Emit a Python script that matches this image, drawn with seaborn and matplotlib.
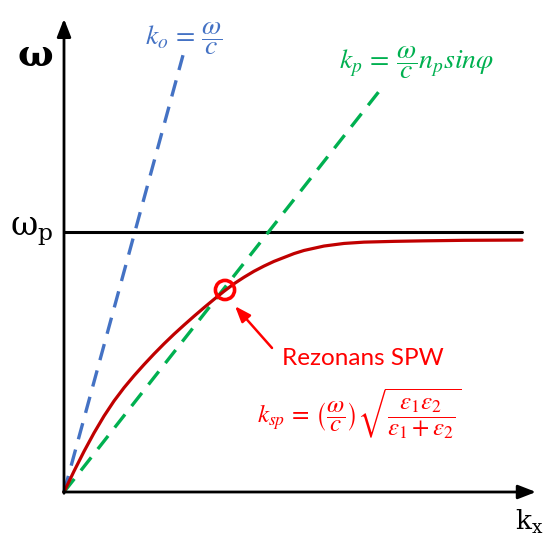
import matplotlib
matplotlib.use("Agg")
import matplotlib.pyplot as plt
import seaborn as sns
import numpy as np
import pandas as pd

sns.set_theme(style="white")
plt.rcParams['mathtext.fontset'] = 'stix'

# Data (x: wavevector k_x, y: frequency omega, omega_p = 1)
light_k = [0.0, 1.19]
light_w = [0.0, 1.68]
prism_k = [0.0, 3.21]
prism_w = [0.0, 1.57]
spw_k = [0.0, 0.1, 0.2, 0.3, 0.4, 0.5, 0.6, 0.7, 0.8, 0.9, 1.0, 1.1, 1.2, 1.3, 1.4, 1.5,
         1.6, 1.7, 1.8, 1.9, 2.0, 2.1, 2.2, 2.3, 2.4, 2.6, 2.8, 3.0, 3.3, 3.6, 4.0, 4.58]
spw_w = [0.0, 0.080, 0.156, 0.227, 0.292, 0.350, 0.401, 0.447, 0.490, 0.531, 0.570, 0.607,
         0.642, 0.676, 0.709, 0.741, 0.772, 0.801, 0.826, 0.849, 0.869, 0.887, 0.902, 0.917,
         0.929, 0.946, 0.956, 0.961, 0.964, 0.966, 0.968, 0.969]
omega_p = 1.0
resonance_k = [1.61]
resonance_w = [0.777]

BLUE = "#4472C4"
GREEN = "#00B050"
DARKRED = "#C00000"
RED = "#FF0000"

fig = plt.figure(figsize=(5.5, 5.38), dpi=100)
ax = fig.add_axes([0, 0, 1, 1])
ax.set_xlim(-0.64, 4.86)
ax.set_ylim(-46/260, 492/260)
ax.axis("off")

# axes with arrows
ax.annotate("", xy=(0, 1.82), xytext=(0, -0.005),
            arrowprops=dict(arrowstyle="-|>,head_length=0.9,head_width=0.35", color="black", lw=2.0, shrinkA=0, shrinkB=0))
ax.annotate("", xy=(4.72, 0), xytext=(-0.005, 0),
            arrowprops=dict(arrowstyle="-|>,head_length=0.9,head_width=0.35", color="black", lw=2.0, shrinkA=0, shrinkB=0))

# omega_p line
sns.lineplot(x=[0, 4.58], y=[omega_p, omega_p], ax=ax, color="black", lw=2.2, sort=False)

# light lines
sns.lineplot(x=light_k, y=light_w, ax=ax, color=BLUE, lw=2.4, linestyle=(0, (5, 3.2)), sort=False)
sns.lineplot(x=prism_k, y=prism_w, ax=ax, color=GREEN, lw=2.4, linestyle=(0, (5, 3.2)), sort=False)

# SPW dispersion
sns.lineplot(x=spw_k, y=spw_w, ax=ax, color=DARKRED, lw=2.3, sort=False)

# resonance marker
sns.scatterplot(x=resonance_k, y=resonance_w, ax=ax, s=190, facecolor="none",
                edgecolor=RED, linewidth=2.6, zorder=5)

# pointer arrow
ax.annotate("", xy=(1.71, 0.715), xytext=(2.08, 0.554),
            arrowprops=dict(arrowstyle="-|>,head_length=0.8,head_width=0.3", color=RED, lw=1.8, shrinkA=0, shrinkB=0))

# labels
ax.text(-0.29, 1.68, "ω", fontsize=27, fontweight="bold", family="DejaVu Serif",
        ha="center", va="center", color="black")
ax.text(-0.325, 1.0, r"$\mathregular{\omega_p}$", fontsize=24, family="DejaVu Serif",
        ha="center", va="center", color="black")
ax.text(4.51, -0.146, r"$\mathregular{k_x}$", fontsize=19, family="DejaVu Serif",
        ha="left", va="baseline", color="black")

ax.text(1.20, 1.745, r"$k_o\,=\,\dfrac{\omega}{c}$", fontsize=20, color=BLUE, ha="center", va="center")
ax.text(3.53, 1.65, r"$k_p\,=\,\dfrac{\omega}{c}n_p sin\varphi$", fontsize=20, color=GREEN, ha="center", va="center")

ax.text(2.985, 0.512, "Rezonans SPW", fontsize=17.5, color=RED, ha="center", va="center", family="Lato")
ax.text(2.95, 0.30,
        r"$k_{sp}\,=\,\left(\dfrac{\omega}{c}\right)\sqrt{\dfrac{\varepsilon_1\varepsilon_2}{\varepsilon_1+\varepsilon_2}}$",
        fontsize=18, color=RED, ha="center", va="center")

fig.savefig("out.png", dpi=100)
